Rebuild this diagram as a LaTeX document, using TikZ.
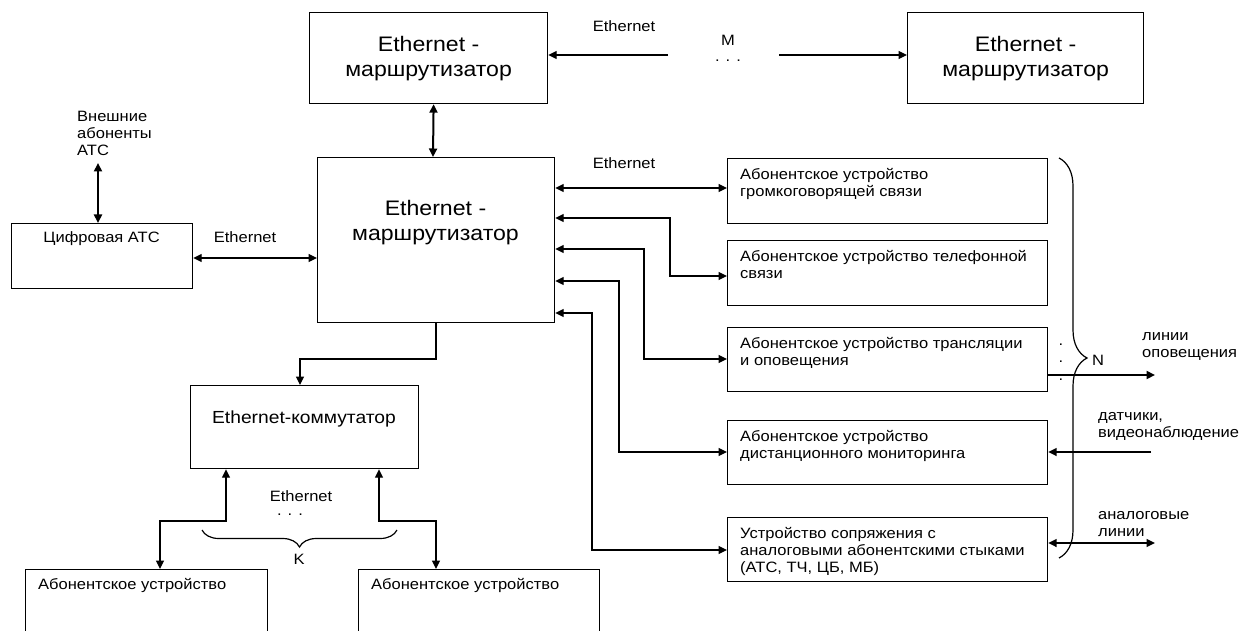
\documentclass[tikz,border=0pt]{standalone}
\usepackage{fontspec}
\setmainfont[FakeStretch=1.1]{Liberation Sans}
\usetikzlibrary{arrows.meta,decorations.pathreplacing}
\begin{document}
\begin{tikzpicture}[x=1pt,y=-1pt,
  >={Triangle[length=8.5pt,width=8pt]},
  box/.style={draw, line width=1.2pt, inner sep=0pt, anchor=north west},
  big/.style={font=\fontsize{21}{25}\selectfont, align=center, inner sep=0pt},
  mid/.style={font=\fontsize{17.5}{21}\selectfont, align=center, inner sep=0pt},
  sm/.style={font=\fontsize{15}{17}\selectfont, align=left, inner sep=0pt},
  dots/.style={font=\fontsize{15}{17}\selectfont, inner sep=0pt, text height=1.5pt, text depth=0pt},
  con/.style={line width=1.2pt},
  thk/.style={line width=2pt},
  brc/.style={line width=1.2pt, decorate},
]
\useasboundingbox (0,0) rectangle (1247,631);
\clip (0,0) rectangle (1247,631);

% boxes
\node[box, minimum width=238pt, minimum height=91pt] (r1) at (309,12) {};
\node[box, minimum width=236pt, minimum height=91pt] (r2) at (907,12) {};
\node[box, minimum width=237pt, minimum height=165pt] (mr) at (317,157) {};
\node[box, minimum width=181pt, minimum height=65pt] (atc) at (11,223) {};
\node[box, minimum width=228pt, minimum height=83pt] (sw) at (190,385) {};
\node[box, minimum width=320pt, minimum height=65pt] (b1) at (727,158) {};
\node[box, minimum width=320pt, minimum height=65pt] (b2) at (727,240) {};
\node[box, minimum width=320pt, minimum height=64pt] (b3) at (727,327) {};
\node[box, minimum width=320pt, minimum height=64pt] (b4) at (727,420) {};
\node[box, minimum width=320pt, minimum height=64pt] (b5) at (727,517) {};
\node[box, minimum width=242pt, minimum height=90pt] (bl) at (25,569) {};
\node[box, minimum width=241pt, minimum height=90pt] (br) at (358,569) {};

% texts
\node[big] (r1t) at (r1.center) {Ethernet -\\маршрутизатор};
\node[big] (r2t) at (r2.center) {Ethernet -\\маршрутизатор};
\node[big] (mrt) at (435.5,223) {Ethernet -\\маршрутизатор};
\node[sm] (atct) at (101.5,239) {Цифровая АТС};
\node[mid] (swt) at (304,419) {Ethernet-коммутатор};
\node[sm, anchor=north west] (b1t) at (740,168) {Абонентское устройство\\громкоговорящей связи};
\node[sm, anchor=north west] (b2t) at (740,250) {Абонентское устройство телефонной\\связи};
\node[sm, anchor=north west] (b3t) at (740,337) {Абонентское устройство трансляции\\и оповещения};
\node[sm, anchor=north west] (b4t) at (740,430) {Абонентское устройство\\дистанционного мониторинга};
\node[sm, anchor=north west] (b5t) at (740,527) {Устройство сопряжения с\\аналоговыми абонентскими стыками\\(АТС, ТЧ, ЦБ, МБ)};
\node[sm, anchor=north west] (blt) at (38,578) {Абонентское устройство};
\node[sm, anchor=north west] (brt) at (371,578) {Абонентское устройство};

\node[sm, anchor=north west] (ext) at (77,111) {Внешние\\абоненты\\АТС};
\node[sm] (eth1) at (624,26) {Ethernet};
\node[sm] (mlab) at (728,40) {M};
\node[dots] (mdots) at (728,61) {. . .};
\node[sm] (eth2) at (624,163) {Ethernet};
\node[sm] (eth3) at (245,237) {Ethernet};
\node[sm] (eth4) at (301,496) {Ethernet};
\node[dots] (kdots) at (290,515) {. . .};
\node[sm] (klab) at (299,559) {K};
\node[sm] (nlab) at (1098,360) {N};
\node[dots] (d1) at (1061,345) {.};
\node[dots] (d2) at (1061,362) {.};
\node[dots] (d3) at (1061,380) {.};
\node[sm, anchor=north west] (l1) at (1142,332) {линии\\оповещения};
\node[sm, anchor=north west] (l2) at (1098,412) {датчики,\\видеонаблюдение};
\node[sm, anchor=north west] (l3) at (1098,511) {аналоговые\\линии};

% free ends
\coordinate (mL) at (668,55);
\coordinate (mR) at (779,55);
\coordinate (extb) at (98,163);
\coordinate (o1) at (1155,375);
\coordinate (o2) at (1151,452);
\coordinate (o3) at (1155,543);

% connectors
\draw[con,->] (mL) -- (r1.east |- mL);
\draw[con,->] (mR) -- (r2.west |- mR);
\draw[thk,<->] ([xshift=5pt]r1.south) -- (mr.north -| {433,0});
\draw[thk,<->] (extb) -- (atc.north -| extb);
\draw[con,<->] (atc.east |- {0,258}) -- (mr.west |- {0,258});
\draw[con,<->] (mr.east |- {0,188}) -- (b1.west |- {0,188});
\draw[con,<->] (mr.east |- {0,218}) -| (670,276) -- (b2.west |- {0,276});
\draw[con,<->] (mr.east |- {0,249}) -| (644,359) -- (b3.west |- {0,359});
\draw[con,<->] (mr.east |- {0,281}) -| (619,452) -- (b4.west |- {0,452});
\draw[con,<->] (mr.east |- {0,313}) -| (592,550) -- (b5.west |- {0,550});
\draw[con,->] (mr.south -| {436,0}) |- (300,359) -- (sw.north -| {300,0});
\draw[con,<->] (sw.south -| {226,0}) |- (160,521) -- (bl.north -| {160,0});
\draw[con,<->] (sw.south -| {379,0}) |- (436,521) -- (br.north -| {436,0});
\draw[thk,->] (b3.east |- o1) -- (o1);
\draw[con,line width=1.6pt,->] (o2) -- (b4.east |- o2);
\draw[con,line width=1.6pt,<->] (b5.east |- o3) -- (o3);

% braces
\draw[brc, decoration={brace, amplitude=17pt, mirror}] (202,530) -- (397,530);
\draw[brc, decoration={brace, amplitude=28pt}] (1059,158) -- (1059,558);
\end{tikzpicture}
\end{document}
